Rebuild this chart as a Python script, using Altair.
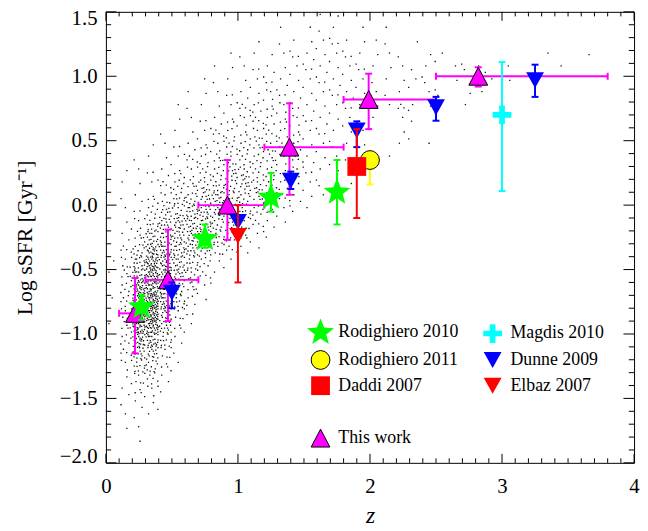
import math
import altair as alt
import pandas as pd

# ---------------- values ----------------
# This work (magenta triangles): redshift, redshift-bin edges, log sSFR and its error range
THIS_WORK_Z = [0.22, 0.47, 0.92, 1.39, 1.99, 2.82]
THIS_WORK_ZLO = [0.10, 0.30, 0.70, 1.20, 1.80, 2.50]
THIS_WORK_ZHI = [0.30, 0.70, 1.20, 1.80, 2.50, 3.80]
THIS_WORK_SSFR = [-0.84, -0.58, 0.00, 0.45, 0.82, 1.00]
THIS_WORK_LO = [-1.15, -0.90, -0.27, 0.08, 0.59, 0.92]
THIS_WORK_HI = [-0.565, -0.19, 0.35, 0.79, 1.02, 1.07]

ROD10_Z = [0.27, 0.75, 1.25, 1.75]
ROD10_SSFR = [-0.79, -0.26, 0.06, 0.10]
ROD10_LO = [-0.89, -0.33, -0.05, -0.15]
ROD10_HI = [-0.70, -0.15, 0.25, 0.35]

ROD11_Z = [2.00]
ROD11_SSFR = [0.35]
ROD11_LO = [0.16]
ROD11_HI = [0.35]

DADDI_Z = [1.90]
DADDI_SSFR = [0.30]
DADDI_LO = [-0.10]
DADDI_HI = [0.59]

MAGDIS_Z = [3.00]
MAGDIS_SSFR = [0.70]
MAGDIS_LO = [0.11]
MAGDIS_HI = [1.11]

DUNNE_Z = [0.50, 1.00, 1.40, 1.90, 2.50, 3.25]
DUNNE_SSFR = [-0.68, -0.13, 0.19, 0.58, 0.76, 0.97]
DUNNE_LO = [-0.80, -0.19, 0.125, 0.45, 0.655, 0.84]
DUNNE_HI = [-0.60, -0.08, 0.26, 0.65, 0.84, 1.09]

ELBAZ_Z = [1.00]
ELBAZ_SSFR = [-0.24]
ELBAZ_LO = [-0.60]
ELBAZ_HI = [0.00]

# background galaxies: density of dots per 0.1 x 0.1 cell (0 = empty .. 9 = densest),
# one string per row from log sSFR 1.5 downwards, one character per z column from z = 0
CLOUD_ROWS = [
    "000000000000000011",
    "0000000000000101110101",
    "00000000000" + "10112221111" + "01",
    "000000000" + "11112222221111" + "02100000001001",
    "00000000" + "11122222222211111" + "0212010001",
    "0000000" + "111222222222111221" + "010011",
    "000000" + "11122232222222111" + "021011",
    "00000" + "11122333322222111312" + "001",
    "00000" + "1122333333222111011",
    "0000" + "1122333433322111002",
    "000" + "1122334444332211100101",
    "00" + "11223344444332211001",
    "0" + "1122334455443321101",
    "0" + "112344555554322101",
    "0" + "1234555655443211",
    "0" + "124556665543211",
    "0" + "2356666554321",
    "0" + "246666554321",
    "0" + "35776654321",
    "1468765421",
    "147876531",
    "04887542",
    "14897531",
    "0489642",
    "1488631",
    "047752",
    "036641",
    "035531",
    "02442",
    "02331",
    "0122",
    "0111",
    "011",
    "001",
    "",
]
CLOUD_TOP = 1.5
CELL = 0.1

X_LABELS = [0, 1, 2, 3, 4]
Y_LABELS = [-2.0, -1.5, -1.0, -0.5, 0.0, 0.5, 1.0, 1.5]
X_MINOR = [round(0.1 * i, 1) for i in range(1, 40) if i % 10]
Y_MINOR = [round(-2.0 + 0.1 * i, 1) for i in range(1, 35) if i % 5]

# legend entries, column by column
LEGEND_MAIN = ["Rodighiero 2010", "Rodighiero 2011", "Daddi 2007",
               "Magdis 2010", "Dunne 2009", "Elbaz 2007"]
LEGEND_THIS = ["This work"]

# ---------------- styles ----------------
FONT = "Liberation Serif"
W, H = 534, 456
SYM = 361
MAGENTA, GREEN, YELLOW = "#FF00FF", "#00FF00", "#FFFF00"
RED, BLUE, CYAN = "#FF0000", "#0000FF", "#00FFFF"


def star_path(R=1.5, inner=0.43):
    pts = []
    for k in range(10):
        a = math.radians(-90 + 36 * k)
        r = R if k % 2 == 0 else R * inner
        pts.append((r * math.cos(a), r * math.sin(a)))
    return "M" + "L".join(f"{x:.3f},{y:.3f}" for x, y in pts) + "Z"


PLUS = "M-0.3,-1L0.3,-1L0.3,-0.3L1,-0.3L1,0.3L0.3,0.3L0.3,1L-0.3,1L-0.3,0.3L-1,0.3L-1,-0.3L-0.3,-0.3Z"
TRI_DOWN = "M-0.95,-0.85L0.95,-0.85L0,0.85Z"
TRI_UP = "M0,-0.95L1,0.95L-1,0.95Z"

SHAPES = {"Rodighiero 2010": star_path(), "Magdis 2010": PLUS, "Rodighiero 2011": "circle",
          "Dunne 2009": TRI_DOWN, "Daddi 2007": "square", "Elbaz 2007": TRI_DOWN}
FILLS = {"Rodighiero 2010": GREEN, "Magdis 2010": CYAN, "Rodighiero 2011": YELLOW,
         "Dunne 2009": BLUE, "Daddi 2007": RED, "Elbaz 2007": RED}
STROKES = {k: "transparent" for k in LEGEND_MAIN}
STROKES["Rodighiero 2011"] = "black"

# stipple texture used to draw the density cells as dots
STIPPLE = [(-0.55, -0.60), (0.48, 0.40), (0.10, -0.85), (-0.75, 0.55), (0.80, -0.35),
           (-0.12, 0.08), (0.30, 0.82), (-0.88, -0.20), (0.62, -0.78), (-0.30, 0.75),
           (0.18, -0.35), (0.88, 0.70), (-0.58, 0.12), (0.35, 0.10), (-0.22, -0.92),
           (0.70, 0.05), (-0.40, -0.30), (0.05, 0.50), (-0.85, 0.90), (0.55, -0.50),
           (-0.05, -0.60), (0.90, -0.88), (-0.65, -0.88), (0.25, 0.58), (-0.45, 0.40),
           (0.68, 0.62), (-0.92, -0.55), (0.42, -0.18), (-0.18, 0.30), (0.02, 0.92),
           (-0.72, -0.02), (0.15, -0.10), (0.85, 0.30), (-0.35, -0.62), (0.40, -0.95),
           (-0.08, 0.72), (0.60, 0.88), (-0.60, 0.78), (0.92, -0.08), (-0.28, 0.02)]
LEVEL_DOTS = [0, 1, 2, 4, 6, 10, 15, 22, 31, 40]
DOT_HALF = 0.1


def stipple_path(level, variant):
    n = len(STIPPLE)
    start = variant * 10
    out = []
    h = DOT_HALF
    for i in range(LEVEL_DOTS[level]):
        x, y = STIPPLE[(start + i) % n]
        out.append(f"M{x - h:.3f},{y - h:.3f}h{2 * h:.3f}v{2 * h:.3f}h{-2 * h:.3f}Z")
    return "".join(out)


GLYPH_KEYS, GLYPH_PATHS = [], []
for lvl in range(1, 10):
    for v in range(4):
        GLYPH_KEYS.append(f"L{lvl}V{v}")
        GLYPH_PATHS.append(stipple_path(lvl, v))

cloud_records = []
for r, line in enumerate(CLOUD_ROWS):
    for c, ch in enumerate(line):
        lvl = int(ch)
        if lvl:
            cloud_records.append({"z": (c + 0.5) * CELL, "s": CLOUD_TOP - (r + 0.5) * CELL,
                                  "g": f"L{lvl}V{(r * 3 + c * 5) % 4}"})
cloud_df = pd.DataFrame(cloud_records)

# ---------------- scales / axes ----------------
X_SCALE = alt.Scale(domain=[0.0, 4.0], nice=False, zero=False)
Y_SCALE = alt.Scale(domain=[-2.0, 1.5], nice=False, zero=False)
X_AXIS = alt.Axis(values=X_LABELS, format="d", ticks=False, domain=False, grid=False,
                  labelPadding=13, labelFontSize=21, labelFlush=False, labelOverlap=False,
                  titleFontSize=24, titleFontStyle="italic", titleFontWeight="normal",
                  titleX=W / 2, titleY=60, titleAlign="center", titleBaseline="alphabetic")
Y_AXIS = alt.Axis(values=Y_LABELS, format=".1f", ticks=False, domain=False, grid=False,
                  labelPadding=9, labelFontSize=21, labelFlush=True, labelFlushOffset=4,
                  labelOverlap=False,
                  titleFontSize=22, titleFontWeight="normal", titleAngle=270,
                  titleX=-75, titleY=H / 2, titleAlign="center", titleBaseline="alphabetic")
X_TITLE = "z"
Y_TITLE = "Log sSFR [Gyr⁻¹]"


def xenc(f):
    return alt.X(f"{f}:Q", scale=X_SCALE, axis=X_AXIS, title=X_TITLE)


def yenc(f):
    return alt.Y(f"{f}:Q", scale=Y_SCALE, axis=Y_AXIS, title=Y_TITLE)


def tick_layers():
    out = []
    for vals, lx in ((X_LABELS, 9.1), (X_MINOR, 4.6)):
        d = pd.DataFrame({"t": vals})
        b = alt.Chart(d).mark_rule(color="black", strokeWidth=1)
        out.append(b.encode(x=xenc("t"), y=alt.value(H), y2=alt.value(H - lx)))
        out.append(b.encode(x=xenc("t"), y=alt.value(0), y2=alt.value(lx)))
    for vals, ly in ((Y_LABELS, 10.7), (Y_MINOR, 5.3)):
        d = pd.DataFrame({"t": vals})
        b = alt.Chart(d).mark_rule(color="black", strokeWidth=1)
        out.append(b.encode(y=yenc("t"), x=alt.value(0), x2=alt.value(ly)))
        out.append(b.encode(y=yenc("t"), x=alt.value(W), x2=alt.value(W - ly)))
    return out


def yerr_layers(df, color):
    base = alt.Chart(df)
    return [
        base.mark_rule(color=color, strokeWidth=2).encode(x=xenc("z"), y=yenc("lo"), y2="hi:Q"),
        base.mark_tick(color=color, orient="horizontal", size=7, thickness=2, opacity=1).encode(x=xenc("z"), y=yenc("lo")),
        base.mark_tick(color=color, orient="horizontal", size=7, thickness=2, opacity=1).encode(x=xenc("z"), y=yenc("hi")),
    ]


def legend(y, cols=None):
    kw = dict(title=None, orient="none", legendX=207, legendY=y, symbolSize=SYM,
              symbolStrokeWidth=1, labelFont=FONT, labelFontSize=18, labelColor="black",
              labelOffset=8, rowPadding=2, columnPadding=22, padding=0, labelLimit=300)
    if cols:
        kw["columns"] = cols
    return alt.Legend(**kw)


def point_layer(df, domain, shapes, fills, strokes, leg):
    return alt.Chart(df).mark_point(filled=True, size=SYM, opacity=1, strokeWidth=1).encode(
        x=xenc("z"), y=yenc("s"),
        shape=alt.Shape("src:N", scale=alt.Scale(domain=domain, range=shapes), legend=leg),
        fill=alt.Fill("src:N", scale=alt.Scale(domain=domain, range=fills), legend=leg),
        stroke=alt.Stroke("src:N", scale=alt.Scale(domain=domain, range=strokes), legend=leg),
    )


def frame(z, s, lo, hi, name):
    return pd.DataFrame({"z": z, "s": s, "lo": lo, "hi": hi, "src": [name] * len(z)})


# ---------------- layers ----------------
cloud = alt.Chart(cloud_df).mark_point(filled=True, size=174, opacity=1, strokeWidth=0,
                                       color="#111111").encode(
    x=xenc("z"), y=yenc("s"),
    shape=alt.Shape("g:N", scale=alt.Scale(domain=GLYPH_KEYS, range=GLYPH_PATHS), legend=None))

tw = pd.DataFrame({"z": THIS_WORK_Z, "zlo": THIS_WORK_ZLO, "zhi": THIS_WORK_ZHI,
                   "s": THIS_WORK_SSFR, "lo": THIS_WORK_LO, "hi": THIS_WORK_HI,
                   "src": ["This work"] * len(THIS_WORK_Z)})
twb = alt.Chart(tw)
this_work = alt.layer(
    twb.mark_rule(color=MAGENTA, strokeWidth=2).encode(x=xenc("zlo"), x2="zhi:Q", y=yenc("s")),
    twb.mark_tick(color=MAGENTA, orient="vertical", size=7, thickness=2, opacity=1).encode(x=xenc("zlo"), y=yenc("s")),
    twb.mark_tick(color=MAGENTA, orient="vertical", size=7, thickness=2, opacity=1).encode(x=xenc("zhi"), y=yenc("s")),
    *yerr_layers(tw, MAGENTA),
    point_layer(tw, LEGEND_THIS, [TRI_UP], [MAGENTA], ["black"], legend(421)),
)

groups = [
    (frame(ROD10_Z, ROD10_SSFR, ROD10_LO, ROD10_HI, "Rodighiero 2010"), GREEN),
    (frame(ROD11_Z, ROD11_SSFR, ROD11_LO, ROD11_HI, "Rodighiero 2011"), YELLOW),
    (frame(DUNNE_Z, DUNNE_SSFR, DUNNE_LO, DUNNE_HI, "Dunne 2009"), BLUE),
    (frame(DADDI_Z, DADDI_SSFR, DADDI_LO, DADDI_HI, "Daddi 2007"), RED),
    (frame(ELBAZ_Z, ELBAZ_SSFR, ELBAZ_LO, ELBAZ_HI, "Elbaz 2007"), RED),
    (frame(MAGDIS_Z, MAGDIS_SSFR, MAGDIS_LO, MAGDIS_HI, "Magdis 2010"), CYAN),
]
main_leg = legend(314, cols=2)
other_layers = []
for df, col in groups:
    other_layers += yerr_layers(df, col)
    other_layers.append(point_layer(df, LEGEND_MAIN,
                                    [SHAPES[k] for k in LEGEND_MAIN],
                                    [FILLS[k] for k in LEGEND_MAIN],
                                    [STROKES[k] for k in LEGEND_MAIN], main_leg))
others = alt.layer(*other_layers)

chart = alt.layer(*tick_layers(), cloud, this_work, others).resolve_scale(
    shape="independent", fill="independent", stroke="independent"
).properties(
    width=W, height=H, background="white",
    autosize=alt.AutoSizeParams(type="none"),
    padding={"left": 99, "top": 1, "right": 6, "bottom": 64},
).configure_view(stroke="black", strokeWidth=1).configure_axis(
    labelFont=FONT, titleFont=FONT, labelColor="black", titleColor="black"
)

chart.save("out.html", embed_options={"renderer": "svg", "actions": False})
